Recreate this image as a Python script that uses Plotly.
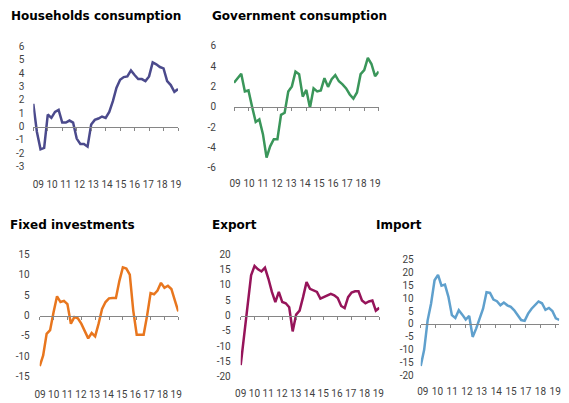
import numpy as np
import plotly.graph_objects as go

WIDTH, HEIGHT = 569, 403

# quarterly data, 2009Q1 - 2019Q1, % y/y
quarters = [f'{y}Q{q}' for y in range(2009, 2020) for q in range(1, 5)][:41]
years = ['09', '10', '11', '12', '13', '14', '15', '16', '17', '18', '19']
import_years = ['09', '10', '11', '12', '13', '14', '15', '17', '18', '19']

households = [1.7, -0.4, -1.7, -1.6, 0.9, 0.65, 1.1, 1.25, 0.3, 0.3, 0.45, 0.3, -0.9, -1.3,
              -1.3, -1.5, 0.15, 0.5, 0.6, 0.75, 0.65, 1.1, 1.9, 2.9, 3.5, 3.7, 3.75, 4.2,
              3.85, 3.55, 3.55, 3.4, 3.75, 4.8, 4.65, 4.45, 4.35, 3.4, 3.1, 2.6, 2.8]
government = [2.35, 2.85, 3.25, 1.5, 1.6, 0.0, -1.5, -1.25, -2.7, -5.0, -3.9, -3.2, -3.2, -0.8,
              -0.6, 1.5, 2.0, 3.45, 3.2, 1.0, 1.65, -0.1, 1.8, 1.5, 1.6, 2.8, 1.95, 2.7,
              3.1, 2.5, 2.2, 1.8, 1.2, 0.8, 1.4, 3.2, 3.6, 4.8, 4.2, 3.0, 3.45]
fixed_investments = [-12.4, -9.8, -4.5, -3.6, 0.8, 4.7, 3.3, 3.6, 2.8, -2.0, -0.4, -0.7, -2.0, -3.8,
                     -5.6, -4.3, -5.1, -2.0, 1.6, 3.3, 4.2, 4.3, 4.3, 8.5, 11.8, 11.5, 10.0, 1.2,
                     -4.7, -4.7, -4.7, 0.0, 5.5, 5.2, 6.1, 8.0, 6.8, 7.3, 6.5, 3.7, 1.0]
export = [-16.2, -6.4, 4.3, 13.1, 16.2, 15.1, 14.4, 15.6, 12.0, 7.7, 4.4, 7.7, 4.4, 4.0,
          2.7, -5.2, 0.3, 1.6, 6.0, 10.9, 8.7, 8.2, 7.7, 5.5, 6.0, 6.6, 7.1, 6.6,
          5.7, 3.1, 2.4, 6.0, 7.5, 7.9, 7.9, 4.9, 4.0, 4.6, 4.9, 1.6, 2.5]
imports = [-16.2, -10.0, 1.4, 7.9, 16.9, 19.0, 14.8, 15.2, 10.5, 3.4, 2.3, 5.3, 3.6, 1.7,
           3.1, -5.0, -1.8, 2.1, 5.9, 12.3, 12.0, 9.4, 8.8, 7.2, 8.3, 7.2, 6.6, 5.3,
           3.4, 1.5, 1.2, 4.0, 5.9, 7.3, 8.7, 8.0, 5.5, 6.2, 5.0, 2.2, 1.6]

TICK_FONT = {'family': 'Roboto', 'size': 10, 'color': '#3f3f3f'}
AXIS_GREY = '#868686'

# box = (left, right, top, bottom) in pixels of the plotting area
panels = [
    {'title': 'Households consumption', 'values': households, 'color': '#4b4a8c',
     'box': (33.3, 178.0, 46.3, 166.7), 'yticks': list(range(-3, 7)), 'title_at': (9, 16),
     'labels': years, 'label_pos': np.linspace(1.4, 39.4, 11), 'tick_pos': np.arange(0, 41, 4),
     'ygap': 9, 'xgap': 8},
    {'title': 'Government consumption', 'values': government, 'color': '#3a965a',
     'box': (234.0, 378.7, 45.7, 167.7), 'yticks': list(range(-6, 7, 2)), 'title_at': (210, 16),
     'labels': years, 'label_pos': np.linspace(0.3, 39.0, 11), 'tick_pos': np.arange(0, 41, 4),
     'ygap': 18, 'xgap': 6},
    {'title': 'Fixed investments', 'values': fixed_investments, 'color': '#e8761e',
     'box': (39.7, 178.3, 254.3, 376.7), 'yticks': list(range(-15, 16, 5)), 'title_at': (8, 225),
     'labels': years, 'label_pos': np.linspace(0.1, 39.4, 11), 'tick_pos': np.arange(0, 41, 4),
     'ygap': 10, 'xgap': 8},
    {'title': 'Export', 'values': export, 'color': '#96145a',
     'box': (240.7, 379.3, 254.3, 376.7), 'yticks': list(range(-20, 21, 5)), 'title_at': (210, 225),
     'labels': years, 'label_pos': np.linspace(0.0, 39.7, 11), 'tick_pos': np.arange(0, 41, 4),
     'ygap': 10, 'xgap': 7},
    {'title': 'Import', 'values': imports, 'color': '#5fa0cd',
     'box': (420.7, 559.3, 259.3, 375.7), 'yticks': list(range(-20, 26, 5)), 'title_at': (374, 225),
     'labels': import_years, 'label_pos': np.linspace(0.6, 38.8, 10), 'tick_pos': np.linspace(0, 38.8, 10),
     'ygap': 7, 'xgap': 6},
]

fig = go.Figure()
layout = {}
x_index = np.arange(len(quarters))

for n, p in enumerate(panels, start=1):
    left, right, top, bottom = p['box']
    xdom = [left / WIDTH, right / WIDTH]
    ydom = [1 - bottom / HEIGHT, 1 - top / HEIGHT]
    lo, hi = min(p['yticks']), max(p['yticks'])
    xr = [0, len(quarters) - 1]
    xname, yname = f'x{n}', f'y{n}'

    fig.add_trace(go.Scatter(x=x_index, y=p['values'], mode='lines', xaxis=xname, yaxis=yname,
                             line={'color': p['color'], 'width': 2.5}, text=quarters,
                             hovertemplate='%{text}: %{y}<extra></extra>', showlegend=False))
    # empty trace so the zero-line axis gets drawn
    fig.add_trace(go.Scatter(x=[], y=[], xaxis=f'x{n + 5}', yaxis=yname,
                             hoverinfo='skip', showlegend=False))

    # axis carrying the year labels at the bottom
    layout[f'xaxis{n}'] = {'domain': xdom, 'anchor': yname, 'range': xr, 'showgrid': False,
                           'zeroline': False, 'showline': False, 'tickmode': 'array',
                           'tickvals': list(p['label_pos']), 'ticktext': p['labels'], 'tickangle': 0,
                           'ticks': 'outside', 'ticklen': p['xgap'], 'tickcolor': 'rgba(0,0,0,0)',
                           'tickfont': TICK_FONT}
    layout[f'yaxis{n}'] = {'domain': ydom, 'anchor': xname, 'range': [lo, hi], 'showgrid': False,
                           'zeroline': False, 'showline': False, 'tickmode': 'array',
                           'tickvals': p['yticks'], 'ticktext': [str(v) for v in p['yticks']],
                           'ticks': 'outside', 'ticklen': max(p['ygap'] - 3, 0),
                           'tickcolor': 'rgba(0,0,0,0)', 'tickfont': TICK_FONT}
    # zero line with small tick marks
    layout[f'xaxis{n + 5}'] = {'overlaying': xname, 'anchor': 'free',
                               'position': ydom[0] + (0 - lo) / (hi - lo) * (ydom[1] - ydom[0]),
                               'range': xr, 'showgrid': False, 'zeroline': False, 'showline': True,
                               'linecolor': AXIS_GREY, 'linewidth': 1, 'ticks': 'outside', 'ticklen': 3,
                               'tickcolor': AXIS_GREY, 'tickwidth': 1, 'tickmode': 'array',
                               'tickvals': list(p['tick_pos']), 'showticklabels': False}

fig.update_layout(layout)

annotations = []
for p in panels:
    tx, ty = p['title_at']
    annotations.append({'text': f"<b>{p['title']}</b>", 'xref': 'paper', 'yref': 'paper',
                        'x': tx / WIDTH, 'y': 1 - ty / HEIGHT, 'xanchor': 'left', 'yanchor': 'middle',
                        'showarrow': False,
                        'font': {'family': 'DejaVu Sans', 'size': 12, 'color': '#000000'}})

fig.update_layout({'template': 'none', 'width': WIDTH, 'height': HEIGHT,
                   'margin': {'l': 0, 'r': 0, 't': 0, 'b': 0},
                   'paper_bgcolor': 'white', 'plot_bgcolor': 'white',
                   'annotations': annotations, 'showlegend': False})

# the page body has a default 8px margin; drop it so the figure sits at the window corner
fig.write_html("out.html", config={'displayModeBar': False},
               post_script="document.body.style.margin = '0';")
